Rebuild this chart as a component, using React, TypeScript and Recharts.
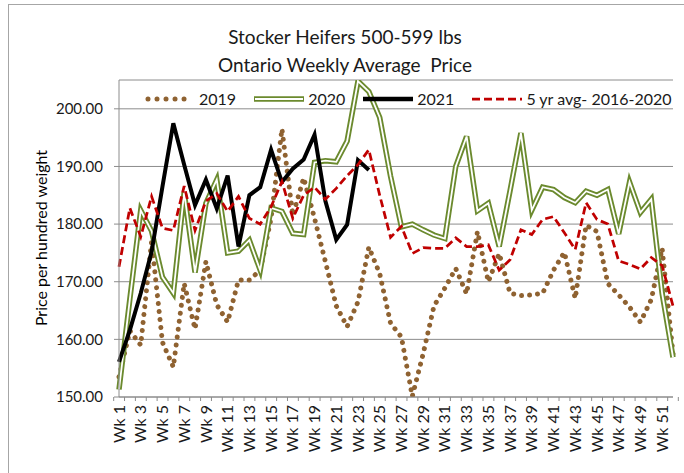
import { LineChart, Line, XAxis, YAxis, CartesianGrid, Legend } from 'recharts'

const WEEKS = Array.from({ length: 52 }, (_, i) => `Wk ${i + 1}`)

const Y2019 = [
  153.5, 161.5, 159, 177, 159.5, 155.2, 169.7, 161.8, 173.5, 166,
  163, 170.3, 170.3, 172, 181, 196.5, 181.5, 188, 181, 173.5,
  165.8, 162.2, 166.5, 176, 171.4, 162.8, 160.4, 150.1, 157.5, 165.8,
  168.9, 172.3, 167.9, 178.7, 170, 174.9, 168, 167.6, 167.7, 168,
  172, 175.1, 167.1, 179.8, 178.7, 169.7, 167.7, 165.6, 163, 166.9,
  175.8, 157.5,
]

const Y2020 = [
  151.3, 167, 182.4, 178.8, 170.8, 168, 185.5, 171.6, 183.6, 187.7,
  175, 175.3, 177.2, 172, 182.8, 182.2, 178.4, 178.2, 190.7, 191,
  190.8, 194.4, 204.8, 203, 198.5, 188.3, 179.5, 180, 179, 178.1,
  177.5, 190, 195.2, 182.3, 183.6, 176.1, 185.8, 195.8, 182.4, 186.4,
  186, 184.6, 183.7, 185.7, 185, 186, 178.3, 187.3, 182, 184.3,
  168, 156.9,
]

const Y2021 = [
  156.1, 161.6, 168, 175.2, 186.5, 197.5, 190.3, 183.3, 187.7, 182.7,
  188.4, 176.1, 185, 186.4, 192.9, 187.3, 189.6, 191.2, 195.5, 184,
  177.3, 179.9, 191.1, 189.4,
]

const AVG_5YR = [
  172.6, 182.8, 177.8, 184.8, 179.3, 178.9, 186.6, 178.9, 184, 185.3,
  182.2, 184.8, 181, 180, 183, 187.4, 181, 185, 186.4, 184.3,
  186.2, 188.4, 190.3, 192.9, 185, 177.7, 179.6, 174.9, 175.9, 175.8,
  175.8, 177.6, 176.1, 176.1, 176.4, 172, 173.8, 179, 178.2, 180.8,
  181.3, 178.5, 175.6, 183.7, 180.8, 180, 173.6, 173, 172.2, 174.2,
  172.8, 165.8,
]

const Y_TICKS = [150, 160, 170, 180, 190, 200]

const rows = WEEKS.map((week, i) => ({
  week,
  y2019: Y2019[i],
  y2020: Y2020[i],
  y2021: i < Y2021.length ? Y2021[i] : null,
  avg: AVG_5YR[i],
}))

const BROWN = '#8f6231'
const GREEN = '#6b8a2e'
const RED = '#c00000'
const GRID = '#8c8c8c'
const FONT = 'Lato, "Open Sans", sans-serif'

const W = 684
const H = 473
const PLOT_LEFT = 119
const PLOT_RIGHT = 11
const BAND = (W - PLOT_LEFT - PLOT_RIGHT) / WEEKS.length

function WeekTick(props: any) {
  const { x, y, payload, index } = props
  const i = payload?.index ?? index
  const axisY = y - 8
  return (
    <g>
      <line x1={x - BAND / 2} x2={x - BAND / 2} y1={axisY} y2={axisY + 4} stroke={GRID} />
      {i === WEEKS.length - 1 && (
        <line x1={x + BAND / 2} x2={x + BAND / 2} y1={axisY} y2={axisY + 4} stroke={GRID} />
      )}
      {i % 2 === 0 && (
        <text
          transform={`translate(${x},${axisY + 8}) rotate(-90)`}
          textAnchor="end"
          dy="0.35em"
          fontSize={16}
          fontFamily={FONT}
          fill="#1a1a1a"
        >
          {payload.value}
        </text>
      )}
    </g>
  )
}

function Sample({ kind }: { kind: string }) {
  return (
    <svg width={50} height={12} style={{ display: 'block' }}>
      {kind === '2019' && (
        <line x1={3} x2={48} y1={6} y2={6} stroke={BROWN} strokeWidth={5} strokeDasharray="0.01 9" strokeLinecap="round" />
      )}
      {kind === '2020' && (
        <>
          <line x1={0} x2={50} y1={6} y2={6} stroke={GREEN} strokeWidth={5.5} />
          <line x1={1} x2={49} y1={6} y2={6} stroke="#fff" strokeWidth={1.8} />
        </>
      )}
      {kind === '2021' && <line x1={0} x2={50} y1={6} y2={6} stroke="#000" strokeWidth={4.5} strokeLinecap="round" />}
      {kind === 'avg' && (
        <line x1={0} x2={50} y1={6} y2={6} stroke={RED} strokeWidth={2.75} strokeDasharray="8 4" />
      )}
    </svg>
  )
}

const LEGEND = [
  { kind: '2019', label: '2019' },
  { kind: '2020', label: '2020' },
  { kind: '2021', label: '2021' },
  { kind: 'avg', label: '5 yr avg- 2016-2020' },
]

function LegendContent() {
  return (
    <div
      style={{
        display: 'flex', alignItems: 'center', whiteSpace: 'nowrap',
        fontFamily: FONT, fontSize: 16, color: '#1a1a1a',
      }}
    >
      {LEGEND.map((item) => (
        <div key={item.kind} style={{ display: 'flex', alignItems: 'center', marginRight: 18, flexShrink: 0 }}>
          <Sample kind={item.kind} />
          <span style={{ marginLeft: 4 }}>{item.label}</span>
        </div>
      ))}
    </div>
  )
}

export default function App() {
  return (
    <div style={{ position: 'absolute', left: 0, top: 0, width: W, height: H, background: '#fff', overflow: 'hidden' }}>
      <div
        style={{
          position: 'absolute', left: 8, top: 4, width: W, height: H,
          borderLeft: '1px solid #a6a6a6', borderTop: '1px solid #a6a6a6',
        }}
      />
      <div
        style={{
          position: 'absolute', left: 0, top: 23, width: 690, textAlign: 'center',
          fontFamily: FONT, fontSize: 19, lineHeight: '28px', color: '#1a1a1a',
        }}
      >
        <div>Stocker Heifers 500-599 lbs</div>
        <div>Ontario Weekly Average&nbsp; Price</div>
      </div>
      <div
        style={{
          position: 'absolute', left: 40, top: 238, transform: 'translate(-50%, -50%) rotate(-90deg)',
          whiteSpace: 'nowrap', fontFamily: FONT, fontSize: 16, color: '#000',
        }}
      >
        Price per hundred weight
      </div>
      <div style={{ position: 'absolute', left: 0, top: 0 }}>
        <LineChart width={W} height={H} data={rows} margin={{ top: 80, right: PLOT_RIGHT, bottom: 0, left: 0 }}>
          <CartesianGrid vertical={false} stroke={GRID} />
          <XAxis
            dataKey="week"
            height={76}
            interval={0}
            tickLine={false}
            axisLine={{ stroke: GRID }}
            tick={<WeekTick />}
          />
          <YAxis
            width={PLOT_LEFT}
            domain={[150, 205]}
            ticks={Y_TICKS}
            allowDataOverflow
            tickFormatter={(v: number) => v.toFixed(2)}
            tickSize={5}
            tickMargin={11}
            axisLine={{ stroke: GRID }}
            tickLine={{ stroke: GRID }}
            tick={{ fontSize: 15, fontFamily: FONT, fill: '#1a1a1a' }}
          />
          <Legend
            verticalAlign="middle"
            align="center"
            content={<LegendContent />}
            wrapperStyle={{ top: 89, left: 145, width: 560 }}
          />
          <Line
            dataKey="y2019"
            name="2019"
            stroke={BROWN}
            strokeWidth={5}
            strokeDasharray="0.01 8"
            strokeLinecap="round"
            dot={false}
            isAnimationActive={false}
          />
          <Line
            dataKey="y2020"
            name="2020"
            stroke={GREEN}
            strokeWidth={5.5}
            dot={false}
            isAnimationActive={false}
          />
          <Line
            dataKey="y2020"
            name="2020 inner"
            stroke="#fff"
            strokeWidth={1.8}
            dot={false}
            legendType="none"
            isAnimationActive={false}
          />
          <Line
            dataKey="y2021"
            name="2021"
            stroke="#000"
            strokeWidth={4}
            dot={false}
            isAnimationActive={false}
          />
          <Line
            dataKey="avg"
            name="5 yr avg- 2016-2020"
            stroke={RED}
            strokeWidth={2.75}
            strokeDasharray="8 4"
            dot={false}
            isAnimationActive={false}
          />
        </LineChart>
      </div>
    </div>
  )
}
